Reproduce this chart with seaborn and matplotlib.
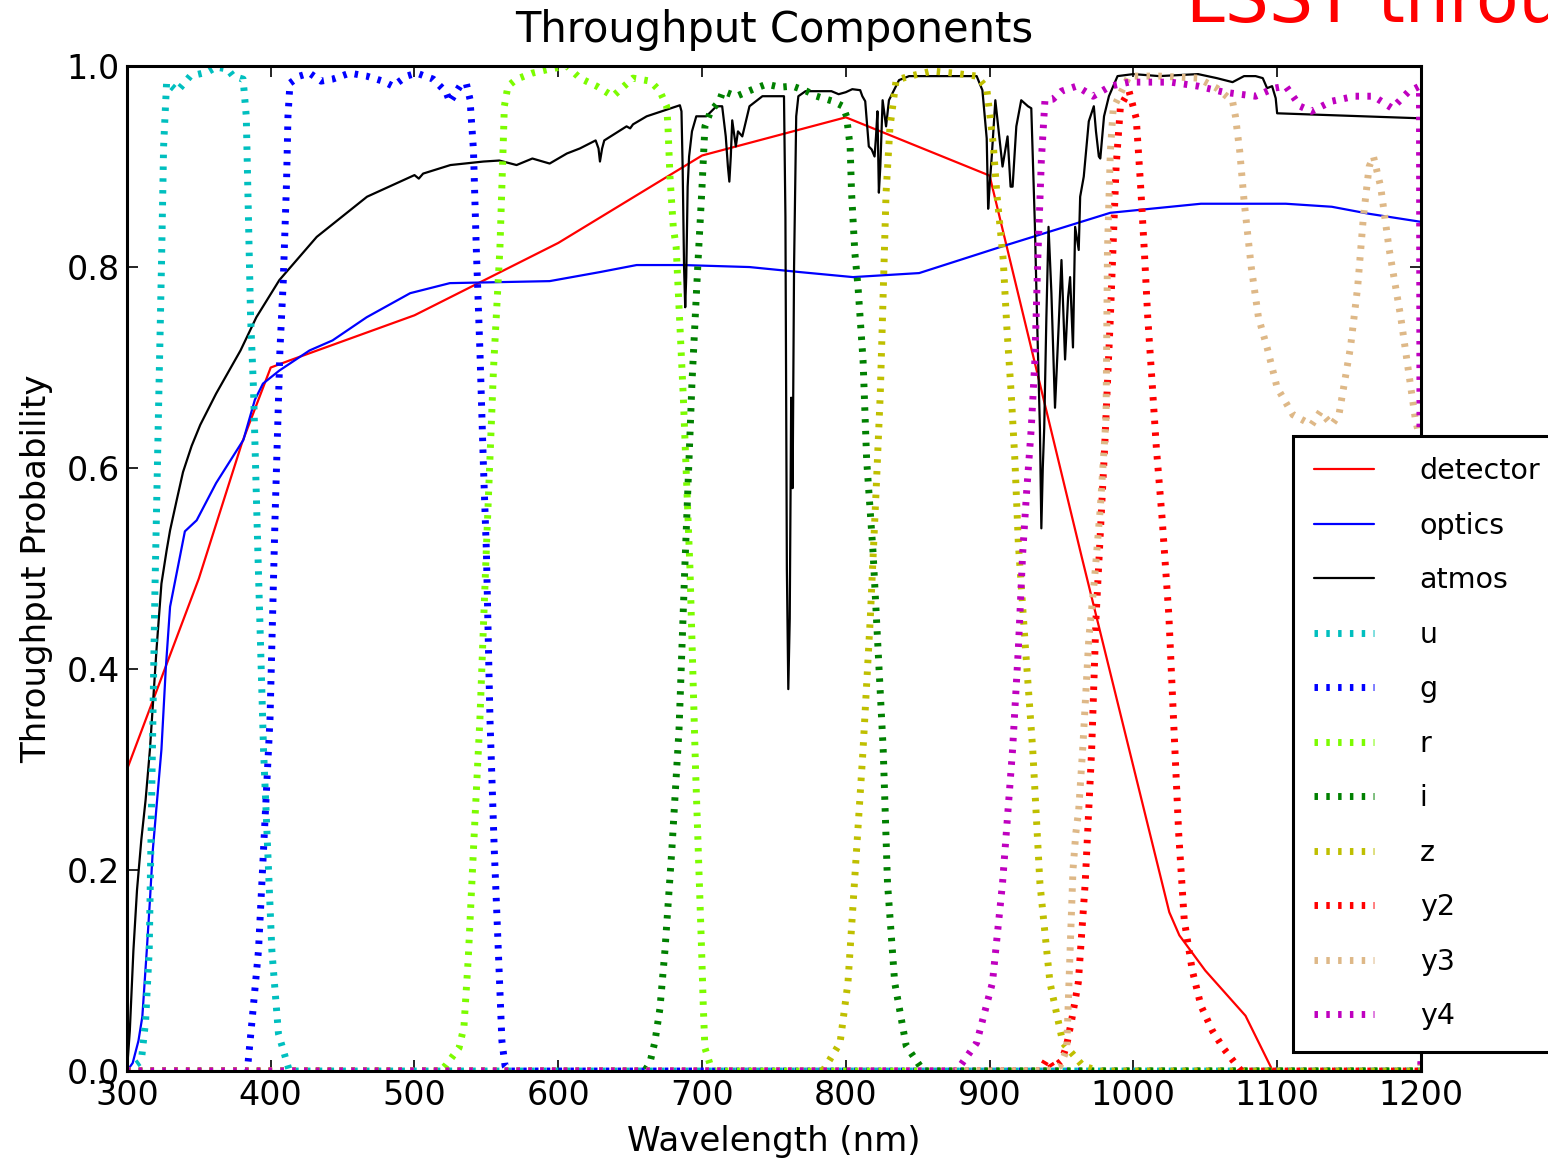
import matplotlib
matplotlib.use("Agg")
import matplotlib.pyplot as plt
import seaborn as sns

sns.set_theme(style="ticks")
plt.rcParams['font.family'] = ['DejaVu Sans']
plt.rcParams['text.color'] = 'black'
plt.rcParams['axes.labelcolor'] = 'black'

# Component curves (wavelength in nm, throughput)
detector_wl = [300, 350, 380, 400, 413, 500, 600, 700, 800, 900, 964, 1025, 1032, 1050, 1078, 1097, 1200]
detector = [0.30, 0.49, 0.625, 0.70, 0.707, 0.752, 0.824, 0.911, 0.949, 0.891, 0.512, 0.158, 0.135,
            0.10, 0.055, 0.0, 0.0]

optics_wl = [300, 304, 308, 310.7, 313.8, 316, 318, 321, 324, 327, 330, 340.3, 348.5, 362, 381, 389,
             394.6, 406, 427, 443, 466.7, 497, 524.6, 594, 629, 654.5, 686.7, 733, 768, 805, 851,
             912, 984, 1047, 1106, 1138, 1164, 1200]
optics = [0.0, 0.008, 0.03, 0.054, 0.12, 0.17, 0.22, 0.27, 0.32, 0.40, 0.462, 0.537, 0.548, 0.585,
          0.628, 0.668, 0.684, 0.697, 0.717, 0.727, 0.75, 0.774, 0.784, 0.786, 0.795, 0.802, 0.802,
          0.80, 0.795, 0.79, 0.794, 0.822, 0.854, 0.863, 0.863, 0.86, 0.853, 0.845]

atmos_wl = [300, 302, 304.5, 307, 310, 313, 316, 320.6, 324, 327.6, 330, 334.6, 339, 345, 351, 362,
            379, 390, 406, 432, 467, 490, 500, 503, 506, 525, 548, 559, 571, 582, 594, 606, 615,
            626, 628, 629, 630.5, 632, 647.5, 650, 652, 661.5, 684.6, 685.7, 686.5, 687.5, 688.3,
            689, 690, 691, 693, 696, 703, 710, 714, 716.5, 718, 719, 720, 721, 723.5, 725, 728, 733,
            742, 754, 757, 758, 759, 760, 761, 762, 763, 764, 765.5, 767, 772, 790, 795, 800, 804.5,
            810, 811.5, 813.5, 816, 818, 820, 821, 822, 823, 824, 825.6, 828, 830, 837, 844, 891,
            895, 898, 899, 900, 901.5, 904, 906, 909, 912.5, 914.6, 916, 918.6, 922, 926.7, 929,
            931.5, 933, 935, 936, 937, 938, 939.5, 941, 943, 945.5, 948, 950, 952.5, 954.6, 956,
            958, 959.5, 962, 963, 965.5, 969, 972.5, 974, 976, 977, 979.6, 983, 989, 1000, 1018,
            1045, 1058, 1069, 1077, 1085, 1090, 1093, 1096.5, 1099, 1100, 1200]
atmos = [0.0, 0.04, 0.12, 0.18, 0.23, 0.27, 0.32, 0.42, 0.485, 0.518, 0.538, 0.568, 0.596, 0.622,
         0.643, 0.674, 0.717, 0.75, 0.787, 0.83, 0.87, 0.885, 0.8915, 0.888, 0.893, 0.9015, 0.905,
         0.906, 0.9015, 0.908, 0.903, 0.913, 0.918, 0.926, 0.918, 0.905, 0.918, 0.926, 0.94,
         0.938, 0.942, 0.95, 0.961, 0.955, 0.90, 0.80, 0.76, 0.79, 0.88, 0.91, 0.935, 0.95, 0.95,
         0.96, 0.96, 0.93, 0.90, 0.885, 0.91, 0.946, 0.92, 0.935, 0.93, 0.96, 0.97, 0.97, 0.97,
         0.85, 0.5, 0.38, 0.45, 0.67, 0.58, 0.80, 0.95, 0.97, 0.975, 0.975, 0.972, 0.974, 0.977,
         0.976, 0.97, 0.965, 0.92, 0.917, 0.91, 0.93, 0.955, 0.874, 0.90, 0.966, 0.94, 0.966,
         0.986, 0.99, 0.99, 0.976, 0.928, 0.858, 0.88, 0.91, 0.966, 0.94, 0.90, 0.93, 0.88, 0.88,
         0.94, 0.966, 0.96, 0.958, 0.842, 0.75, 0.64, 0.54, 0.60, 0.64, 0.75, 0.84, 0.774, 0.66,
         0.74, 0.807, 0.708, 0.77, 0.79, 0.72, 0.84, 0.817, 0.87, 0.89, 0.945, 0.96, 0.935, 0.91,
         0.908, 0.95, 0.97, 0.99, 0.992, 0.99, 0.992, 0.988, 0.984, 0.99, 0.99, 0.988, 0.978,
         0.98, 0.968, 0.953, 0.948]

# Filter curves
u_wl = [300, 310, 313, 315.5, 317.5, 319.5, 322, 324, 325.5, 327.6, 335, 344, 356, 362, 370, 373.8,
        380.8, 383, 384.5, 386, 388, 391, 395, 400.8, 405.4, 413, 1200]
u = [0.0, 0.01, 0.05, 0.12, 0.3, 0.48, 0.66, 0.8, 0.92, 0.984, 0.975, 0.99, 0.994, 0.999, 0.997,
     0.99, 0.987, 0.95, 0.85, 0.75, 0.68, 0.52, 0.32, 0.12, 0.037, 0.0, 0.0]

g_wl = [300, 383.7, 387, 391.5, 395, 399.5, 403, 406.4, 408.7, 411, 412, 413.4, 420, 427, 435, 443,
        455, 466.7, 478, 485, 494.5, 501.5, 513, 522, 524.6, 531.6, 536, 538.6, 541, 543, 545.5,
        548, 550, 552.5, 555.5, 558.3, 560.8, 563, 566, 1200]
g = [0.0, 0.0, 0.05, 0.12, 0.22, 0.35, 0.55, 0.717, 0.785, 0.884, 0.95, 0.983, 0.99, 0.993, 0.985,
     0.987, 0.993, 0.99, 0.985, 0.98, 0.99, 0.993, 0.987, 0.974, 0.964, 0.98, 0.983, 0.967, 0.917,
     0.818, 0.717, 0.6, 0.518, 0.35, 0.22, 0.12, 0.03, 0.005, 0.0, 0.0]

r_wl = [300, 518, 522, 531, 534.4, 537.4, 541, 545.5, 550, 555, 559.4, 561.6, 562.5, 565, 571, 582,
        594, 606, 615, 626.7, 638, 652, 664, 670.7, 675.4, 676.3, 677.7, 680, 682, 687, 691.6, 695.5,
        699.7, 700.9, 702, 705.5, 708, 1200]
r = [0.0, 0.0, 0.006, 0.023, 0.044, 0.112, 0.22, 0.35, 0.52, 0.7, 0.818, 0.917, 0.96, 0.98, 0.987,
     0.993, 0.997, 1.0, 0.988, 0.98, 0.97, 0.988, 0.985, 0.975, 0.96, 0.94, 0.89, 0.84, 0.82, 0.67,
     0.5, 0.3, 0.12, 0.063, 0.023, 0.007, 0.0, 0.0]

i_wl = [300, 660, 663.7, 667.2, 670.7, 674.2, 679, 684, 688, 693, 697, 700, 702, 706, 712, 714.5,
        724, 735.6, 745, 754, 763, 772.7, 779.7, 791, 798, 800.5, 803, 804, 806.3, 808.5, 812,
        814.5, 819, 826, 829, 834, 842, 854, 1200]
i_band = [0.0, 0.0, 0.008, 0.029, 0.062, 0.12, 0.22, 0.34, 0.5, 0.685, 0.8, 0.88, 0.94, 0.955,
          0.965, 0.975, 0.97, 0.977, 0.982, 0.979, 0.98, 0.975, 0.97, 0.965, 0.96, 0.95, 0.92,
          0.874, 0.814, 0.78, 0.707, 0.608, 0.515, 0.32, 0.187, 0.088, 0.025, 0.0, 0.0]

z_wl = [300, 784, 796, 801.5, 806, 812, 817, 821, 824, 826, 828, 830.7, 835, 844.6, 860, 875, 891,
        898, 902.5, 905, 909.5, 912, 915, 917.6, 920, 925, 930, 935, 942, 951, 965, 977, 1200]
z = [0.0, 0.0, 0.028, 0.088, 0.187, 0.32, 0.45, 0.575, 0.675, 0.774, 0.874, 0.939, 0.986, 0.99,
     0.995, 0.993, 0.99, 0.978, 0.923, 0.874, 0.807, 0.74, 0.675, 0.608, 0.525, 0.42, 0.32, 0.187,
     0.088, 0.028, 0.005, 0.0, 0.0]

y2_wl = [300, 935, 940, 944, 950, 953.5, 957, 961.7, 966.5, 971, 974, 980, 984, 988, 991, 997,
         1002, 1005, 1007.6, 1010, 1013, 1016, 1020, 1024.7, 1031.5, 1035.4, 1041, 1047, 1055, 1063,
         1075, 1200]
y2 = [0.0, 0.0, 0.012, 0.003, 0.01, 0.025, 0.05, 0.088, 0.187, 0.32, 0.45, 0.62, 0.75, 0.9, 0.96,
      0.975, 0.948, 0.882, 0.817, 0.75, 0.686, 0.62, 0.55, 0.453, 0.237, 0.15, 0.1, 0.065, 0.04,
      0.022, 0.0, 0.0]

y3_wl = [300, 940, 949, 953.6, 956, 958, 960, 962, 965, 969, 973, 977, 981, 982, 984, 986, 997, 1018,
         1045, 1058, 1069, 1071, 1074, 1077, 1082, 1087, 1093, 1100, 1111, 1124, 1130, 1138, 1143,
         1151, 1156, 1160, 1164, 1167, 1172, 1178, 1186, 1191, 1196, 1199, 1200]
y3 = [0.0, 0.0, 0.005, 0.021, 0.12, 0.2, 0.237, 0.26, 0.326, 0.43, 0.49, 0.56, 0.65, 0.817, 0.915,
      0.958, 0.99, 0.99, 0.988, 0.978, 0.965, 0.95, 0.915, 0.866, 0.80, 0.75, 0.72, 0.68, 0.653,
      0.643, 0.656, 0.643, 0.653, 0.72, 0.78, 0.85, 0.90, 0.91, 0.88, 0.817, 0.75, 0.70, 0.65,
      0.63, 0.0]

y4_wl = [300, 877, 891, 902, 909, 916, 920, 923, 925.7, 929, 931.5, 933.5, 936, 938.5, 944, 950,
         960.5, 972, 984, 997, 1010, 1026, 1045, 1063, 1085, 1098, 1106, 1116, 1124, 1138, 1154,
         1167, 1180, 1191, 1199, 1200]
y4 = [0.0, 0.0, 0.028, 0.088, 0.187, 0.32, 0.42, 0.515, 0.575, 0.64, 0.707, 0.807, 0.906, 0.966,
      0.967, 0.975, 0.98, 0.97, 0.98, 0.984, 0.984, 0.984, 0.98, 0.974, 0.97, 0.978, 0.98, 0.96,
      0.955, 0.965, 0.97, 0.97, 0.958, 0.974, 0.98, 0.0]

components = [("detector", detector_wl, detector, "red"),
              ("optics", optics_wl, optics, "blue"),
              ("atmos", atmos_wl, atmos, "black")]
filters = [("u", u_wl, u, (0.0, 0.75, 0.75)),
           ("g", g_wl, g, "blue"),
           ("r", r_wl, r, "lawngreen"),
           ("i", i_wl, i_band, (0.0, 0.5, 0.0)),
           ("z", z_wl, z, (0.75, 0.75, 0.0)),
           ("y2", y2_wl, y2, "red"),
           ("y3", y3_wl, y3, "burlywood"),
           ("y4", y4_wl, y4, (0.75, 0.0, 0.75))]

fig = plt.figure(figsize=(15.48, 11.61), dpi=100)
ax = fig.add_axes([0.0820, 0.0775, 0.8359, 0.8656])

for name, wl, vals, col in components:
    sns.lineplot(x=wl, y=vals, ax=ax, color=col, linewidth=1.6, label=name,
                 estimator=None, sort=False, errorbar=None)

for name, wl, vals, col in filters:
    sns.lineplot(x=wl, y=vals, ax=ax, color=col, linewidth=5, label=name,
                 linestyle=(0, (0.5, 1.2)), estimator=None, sort=False, errorbar=None)

ax.set_xlim(300, 1200)
ax.set_ylim(0, 1.0)
ax.set_xticks(range(300, 1201, 100))
ax.set_yticks([0.0, 0.2, 0.4, 0.6, 0.8, 1.0])
ax.set_yticklabels(["0.0", "0.2", "0.4", "0.6", "0.8", "1.0"])
ax.tick_params(direction="in", length=8, width=1.2, labelsize=24, top=True, right=True,
               colors="black")
ax.tick_params(axis="x", pad=6)
ax.tick_params(axis="y", pad=5)
for sp in ax.spines.values():
    sp.set_linewidth(2.2)
    sp.set_color("black")

ax.set_title("Throughput Components", fontsize=30, pad=17, color="black")
ax.set_xlabel("Wavelength (nm)", fontsize=24.5, labelpad=9, color="black")
ax.set_ylabel("Throughput Probability", fontsize=24.5, labelpad=10, color="black")

leg = ax.legend(loc="upper left", bbox_to_anchor=(1293 / 1548, 1 - 436 / 1161),
                bbox_transform=fig.transFigure, borderaxespad=0, fontsize=20.5,
                frameon=True, fancybox=False, shadow=False, framealpha=1,
                handlelength=2.1, handletextpad=1.6, labelspacing=0.93, borderpad=0.75)
leg.get_frame().set_edgecolor("black")
leg.get_frame().set_linewidth(2.2)
for t in leg.get_texts():
    t.set_color("black")

fig.text(1186 / 1548, 1 - 22 / 1161, "LSST throughput", color="red", fontsize=50,
         va="baseline", ha="left")

fig.savefig("out.png", dpi=100)
